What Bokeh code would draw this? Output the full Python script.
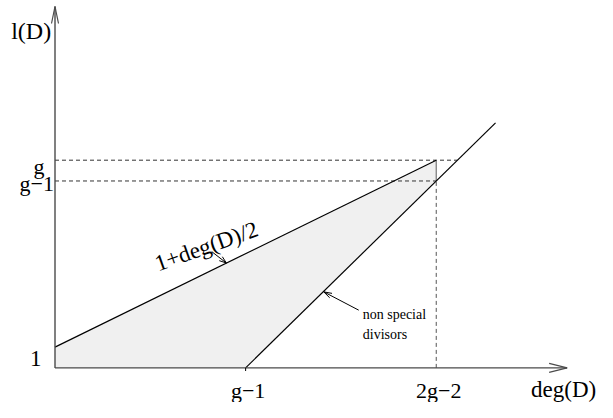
import math
from bokeh.plotting import figure
from bokeh.models import Range1d
from bokeh.core.properties import value
from bokeh.embed import file_html
from bokeh.resources import INLINE

# ---- data (schematic with g = 10) ----
g = 10
tick_pos = [g - 1, 2 * g - 2]            # deg(D) ticks
tick_labels = ["g\u22121", "2g\u22122"]
level_pos = [g, g - 1]                   # l(D) levels
level_labels = ["g", "g\u22121"]
clifford_x = [0, 2 * g - 2]              # l(D) = 1 + deg(D)/2
clifford_y = [1, g]
rr_x = [g - 1, 20.8]                     # l(D) = deg(D) - g + 1
rr_y = [0, 20.8 - g + 1]
region_x = [0, 0, 2 * g - 2, 2 * g - 2, g - 1]
region_y = [0, 1, g, g - 1, 0]

# ---- geometry ----
W, H = 597, 402
SX, SY = 21.18, 20.77     # px per unit
OX, OY = 54.5, 34.6       # origin offset in px (from left / bottom)
x0, x1 = -OX / SX, (W - OX) / SX
y0, y1 = -OY / SY, (H - OY) / SY

p = figure(width=W, height=H, output_backend="svg", toolbar_location=None,
           x_range=Range1d(x0, x1), y_range=Range1d(y0, y1),
           x_axis_location=None, y_axis_location=None, min_border=0,
           outline_line_color=None, background_fill_color="white",
           border_fill_color="white")
p.grid.visible = False

FONT = value("Liberation Serif")

def head(tx, ty, dx, dy, length, half, color, width):
    n = math.hypot(dx, dy)
    ux, uy = dx / n, dy / n
    px_, py_ = -uy, ux
    bx = [tx - (ux * length + px_ * half) / SX, tx - (ux * length - px_ * half) / SX]
    by = [ty - (uy * length + py_ * half) / SY, ty - (uy * length - py_ * half) / SY]
    p.segment(x0=[tx, tx], y0=[ty, ty], x1=bx, y1=by, line_color=color, line_width=width)

# shaded region
p.patch(region_x, region_y, fill_color="#f0f0f0", line_color=None)

# dashed guide lines
x_top_end = g + g - 1  # where lower line reaches l = g
p.segment(x0=[0, 0], y0=level_pos, x1=[x_top_end, 2 * g - 2], y1=level_pos,
          line_color="#333333", line_width=1, line_dash="4 3")
p.segment(x0=[2 * g - 2], y0=[0], x1=[2 * g - 2], y1=[g - 1],
          line_color="#555555", line_width=1, line_dash="4 3")
p.segment(x0=[2 * g - 2], y0=[g - 1], x1=[2 * g - 2], y1=[g],
          line_color="#777777", line_width=1.2)

# main lines
p.line(clifford_x, clifford_y, line_color="black", line_width=1.2)
p.line(rr_x, rr_y, line_color="black", line_width=1.2)

# axes
AX = "#4a4a4a"
ytip = 17.4
xtip = 24.18
p.segment(x0=[0, 0], y0=[0, 0], x1=[0, xtip], y1=[ytip, 0], line_color=AX, line_width=1.4)
head(0, ytip, 0, 1, 17, 3.5, AX, 1.2)
head(xtip, 0, 1, 0, 18, 4.5, AX, 1.2)

# small tick at g-1
p.segment(x0=[g - 1], y0=[0], x1=[g - 1], y1=[-0.15], line_color="black", line_width=1)

# pointer arrows
p.segment(x0=[7.40, 14.34], y0=[5.60, 2.78], x1=[8.09, 12.69], y1=[5.05, 3.66],
          line_color="black", line_width=1)
head(8.09, 5.05, (8.09 - 7.40) * SX, (5.05 - 5.60) * SY, 7, 2.5, "black", 1)
head(12.69, 3.66, (12.69 - 14.34) * SX, (3.66 - 2.78) * SY, 8, 2.5, "black", 1)

# texts
p.text(x=[-0.18], y=[16.2], text=["l(D)"], text_font=FONT, text_font_size="24px",
       text_align="right", text_baseline="alphabetic", text_color="black")
p.text(x=[-0.5, -0.05], y=[9.72, 8.89], text=level_labels, text_font=FONT,
       text_font_size="22px", text_align="right", text_baseline="alphabetic",
       text_color="black")
p.text(x=[-0.64], y=[0.46], text=["1"], text_font=FONT, text_font_size="23px",
       text_align="right", text_baseline="alphabetic", text_color="black")
p.text(x=[t + 0.12 for t in tick_pos], y=[-1.07, -1.07], text=tick_labels, text_font=FONT,
       text_font_size="22px", text_align="center", text_baseline="alphabetic",
       text_color="black")
p.text(x=[25.55], y=[-1.05], text=["deg(D)"], text_font=FONT, text_font_size="23px",
       text_align="right", text_baseline="alphabetic", text_color="black")
p.text(x=[7.15], y=[5.85], text=["1+deg(D)/2"], text_font=FONT, text_font_size="23px",
       text_align="center", text_baseline="alphabetic", angle=math.radians(19.5),
       text_color="black")
p.text(x=[14.53, 14.53], y=[2.55, 1.62], text=["non special", "divisors"], text_font=FONT,
       text_font_size="14px", text_align="left", text_baseline="alphabetic",
       text_color="black")

open("out.html", "w").write(file_html(p, INLINE))
